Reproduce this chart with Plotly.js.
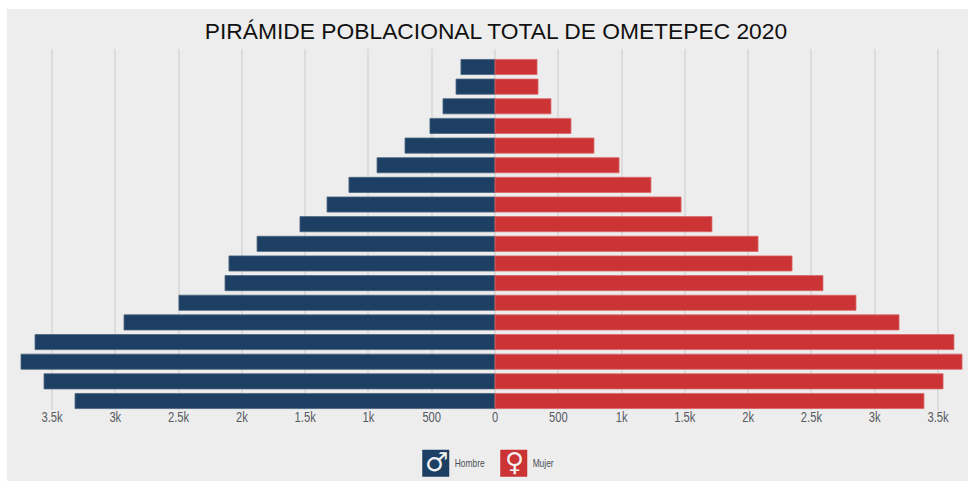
<!DOCTYPE html>
<html><head><meta charset="utf-8">
<script src="https://cdn.plot.ly/plotly-3.0.1.min.js"></script>
<style>html,body{margin:0;padding:0;background:#fff;overflow:hidden}#c{position:absolute;left:7px;top:9px;width:961px;height:472px}</style>
</head><body><div id="c"></div>
<script>
const grupos = ['0-4','5-9','10-14','15-19','20-24','25-29','30-34','35-39','40-44','45-49','50-54','55-59','60-64','65-69','70-74','75-79','80-84','85+'];
const hombre = [3318,3563,3745,3634,2931,2497,2133,2102,1880,1541,1327,1154,932,711,514,411,308,269];
const mujer = [3389,3540,3690,3626,3192,2852,2591,2347,2078,1714,1470,1232,980,782,600,442,340,332];
const tickValores = [-3500,-3000,-2500,-2000,-1500,-1000,-500,0,500,1000,1500,2000,2500,3000,3500];
const tickTextos = ['3.5k','3k','2.5k','2k','1.5k','1k','500','0','500','1k','1.5k','2k','2.5k','3k','3.5k'];
const titulo = 'PIRÁMIDE POBLACIONAL TOTAL DE OMETEPEC 2020';
const azul = '#1c3f63', rojo = '#cb3335';
const W = 961, H = 472, OX = 7, OY = 9;
const L = 13, R = 967, T = 49, B = 410; // page px
const px = p => (p - L) / (R - L), py = p => (B - p) / (B - T);
const rowH = 19.65;
const traces = [
 {type:'bar',orientation:'h',name:'Hombre',y:grupos,x:hombre.map(v=>-v),marker:{color:azul,line:{color:'#4a6580',width:0.8}}},
 {type:'bar',orientation:'h',name:'Mujer',y:grupos,x:mujer,marker:{color:rojo,line:{color:'#d96668',width:0.8}}}
];
const icon = (x0,c) => ({type:'rect',xref:'paper',yref:'paper',x0:px(x0),x1:px(x0+26.5),y0:py(476.5),y1:py(450),fillcolor:c,line:{color:c,width:0.5}});
const sym = (x,y,s,size) => ({xref:'paper',yref:'paper',x:px(x),y:py(y),xanchor:'center',yanchor:'middle',showarrow:false,text:s,font:{family:'DejaVu Sans',size:size,color:'#f2f2f2'}});
const lab = (x,s) => ({xref:'paper',yref:'paper',x:px(x),y:py(463),xanchor:'center',yanchor:'middle',showarrow:false,text:s,font:{family:'Liberation Sans',size:10.5,color:'#4a4f55'}});
const layout = {
 width:W,height:H,autosize:false,
 paper_bgcolor:'#ededed',plot_bgcolor:'#ededed',
 margin:{l:L-OX,r:OX+W-R,t:T-OY,b:OY+H-B,pad:0},
 title:{text:titulo,font:{family:'Liberation Sans',size:22.8,color:'#111'},x:(496-OX)/W,xanchor:'center',y:1-(31-OY)/H,yanchor:'middle'},
 barmode:'overlay',bargap:0.23,showlegend:false,
 xaxis:{type:'linear',range:[(L-495)/0.12657,(R-495)/0.12657],tickmode:'array',tickvals:tickValores,ticktext:tickTextos,
  showgrid:true,gridcolor:'#dcdcdc',gridwidth:2,zeroline:false,showline:false,ticks:'',ticklabelstandoff:-3,
  tickfont:{family:'Liberation Sans',size:14,color:'#565b62'}},
 yaxis:{type:'category',range:[-(B-401)/rowH,17+(67-T)/rowH],showticklabels:false,showgrid:false,zeroline:false,showline:false,ticks:''},
 shapes:[
  {type:'rect',layer:'below',xref:'paper',yref:'paper',x0:0,x1:1,y0:py(B),y1:py(403.5),fillcolor:'#ededed',line:{width:0}},
  icon(422.5,azul),icon(500.5,rojo)],
 annotations:[sym(436,462,'♂',26),sym(514,462,'♀',26),lab(469.5,'Hombre'),lab(543,'Mujer')]
};
function estrechar(t,k){
  const w=t.getComputedTextLength();
  t.setAttribute('textLength',(w*k).toFixed(1));
  t.setAttribute('lengthAdjust','spacingAndGlyphs');
}
Plotly.newPlot('c',traces,layout,{displayModeBar:false,staticPlot:true}).then(()=>{
  document.querySelectorAll('.xtick text').forEach(t=>estrechar(t,0.8));
  document.querySelectorAll('.annotation-text').forEach(t=>{
    if(/Hombre|Mujer/.test(t.textContent)) estrechar(t,0.8);
  });
});
</script></body></html>
